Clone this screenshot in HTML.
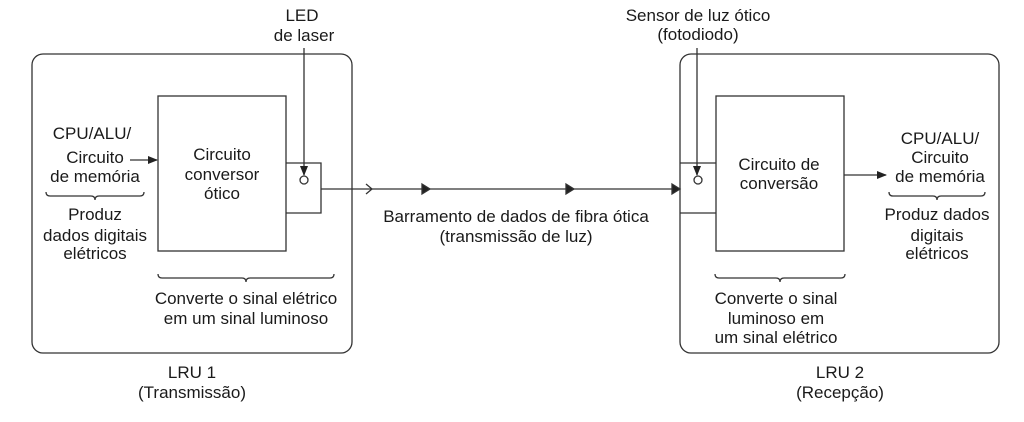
<!DOCTYPE html>
<html><head><meta charset="utf-8"><style>
html,body{margin:0;padding:0;background:#fff;}
svg{display:block;}
text{font-family:"Liberation Sans","DejaVu Sans",sans-serif;font-size:17px;fill:#1a1a1a;text-anchor:middle;}
</style></head><body>
<svg width="1024" height="422" viewBox="0 0 1024 422" xmlns="http://www.w3.org/2000/svg">
<defs>
<marker id="f" markerWidth="10" markerHeight="8" refX="9" refY="4" orient="auto" markerUnits="userSpaceOnUse"><path d="M0,0 L10,4 L0,8 z" fill="#222"/></marker>
</defs>
<g stroke="#333" stroke-width="1.3" fill="none">
<rect x="32" y="54" width="320" height="299" rx="11"/>
<rect x="158" y="96" width="128" height="155"/>
<polyline points="286,163 321,163 321,213 286,213"/>
<circle cx="304" cy="180" r="4"/>
<line x1="304" y1="48" x2="304" y2="175" marker-end="url(#f)"/>
<line x1="130" y1="160" x2="157" y2="160" marker-end="url(#f)"/>
<path d="M46,192 q0,4 4,4 h41 q4,0 4,4 q0,-4 4,-4 h41 q4,0 4,-4"/>
<path d="M158,274 q0,4 4,4 h80 q4,0 4,4 q0,-4 4,-4 h80 q4,0 4,-4"/>
<line x1="321" y1="189" x2="678" y2="189"/>
<polyline points="366,184 372,189 366,194"/>
<path d="M422,184 L430,189 L422,194 z" fill="#222"/>
<path d="M566,184 L574,189 L566,194 z" fill="#222"/>
<path d="M672,184 L680,189 L672,194 z" fill="#222"/>
<rect x="680" y="54" width="319" height="299" rx="11"/>
<rect x="716" y="96" width="128" height="155"/>
<line x1="680" y1="163" x2="716" y2="163"/>
<line x1="680" y1="213" x2="716" y2="213"/>
<circle cx="698" cy="180" r="4"/>
<line x1="697" y1="48" x2="697" y2="175" marker-end="url(#f)"/>
<line x1="844" y1="175" x2="886" y2="175" marker-end="url(#f)"/>
<path d="M889,192 q0,4 4,4 h40 q4,0 4,4 q0,-4 4,-4 h40 q4,0 4,-4"/>
<path d="M715,274 q0,4 4,4 h57 q4,0 4,4 q0,-4 4,-4 h57 q4,0 4,-4"/>
</g>
<text x="302" y="21">LED</text>
<text x="304" y="41">de laser</text>
<text x="92" y="139">CPU/ALU/</text>
<text x="95" y="163">Circuito</text>
<text x="95" y="182">de memória</text>
<text x="95" y="220">Produz</text>
<text x="95" y="241">dados digitais</text>
<text x="95" y="259">elétricos</text>
<text x="222" y="160">Circuito</text>
<text x="222" y="180">conversor</text>
<text x="222" y="199">ótico</text>
<text x="246" y="304">Converte o sinal elétrico</text>
<text x="246" y="324">em um sinal luminoso</text>
<text x="192" y="378">LRU 1</text>
<text x="192" y="398">(Transmissão)</text>
<text x="516" y="222">Barramento de dados de fibra ótica</text>
<text x="516" y="242">(transmissão de luz)</text>
<text x="698" y="21">Sensor de luz ótico</text>
<text x="698" y="40">(fotodiodo)</text>
<text x="779" y="170">Circuito de</text>
<text x="779" y="189">conversão</text>
<text x="940" y="144">CPU/ALU/</text>
<text x="940" y="163">Circuito</text>
<text x="940" y="182">de memória</text>
<text x="937" y="220">Produz dados</text>
<text x="937" y="241">digitais</text>
<text x="937" y="259">elétricos</text>
<text x="776" y="304">Converte o sinal</text>
<text x="776" y="324">luminoso em</text>
<text x="776" y="343">um sinal elétrico</text>
<text x="840" y="378">LRU 2</text>
<text x="840" y="398">(Recepção)</text>
</svg>
</body></html>
